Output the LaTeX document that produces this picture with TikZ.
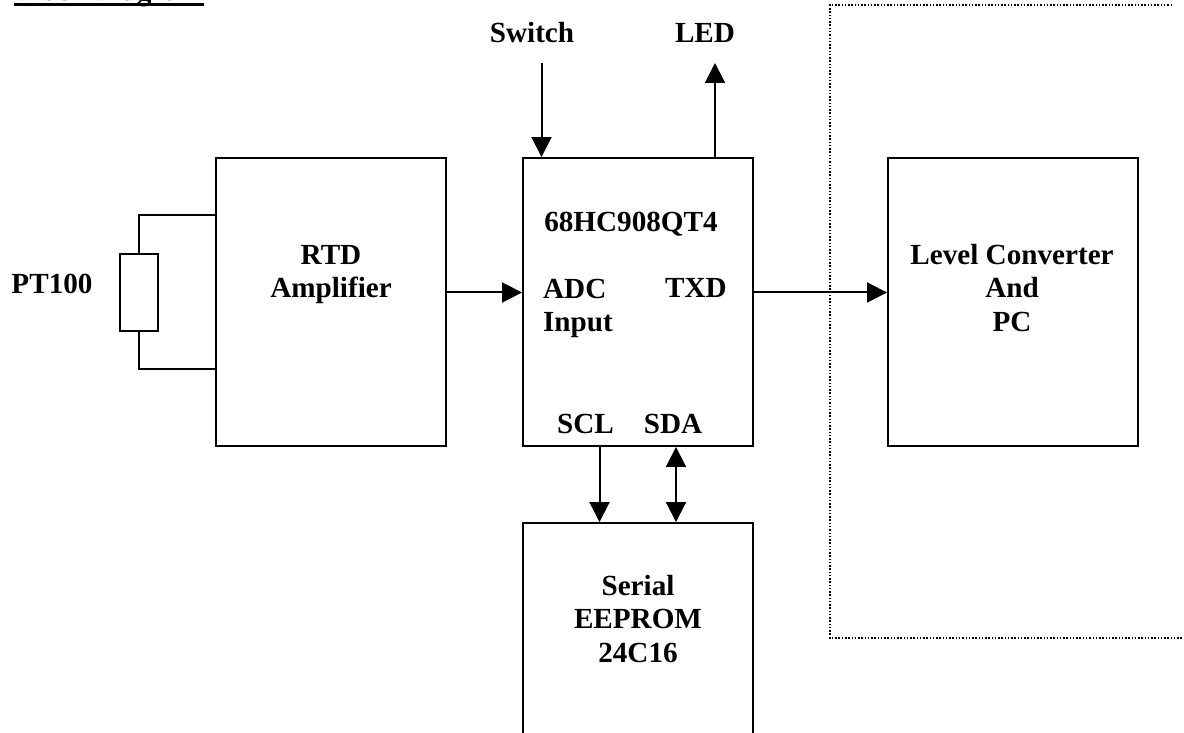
\documentclass[tikz,border=0pt]{standalone}
\usepackage{fontspec}
\setmainfont{Liberation Serif}
\usetikzlibrary{arrows.meta}
\tikzset{
  block/.style={draw=black,line width=0.04cm,inner sep=0pt,minimum width=4.6cm,minimum height=5.76cm,align=center},
  caption/.style={inner sep=0pt,font=\bfseries\fontsize{16.6}{18.9}\selectfont,align=center},
  wire/.style={line width=0.04cm},
  arrowwire/.style={wire,-{Triangle[length=0.4cm,width=0.4cm]}},
  biwire/.style={wire,{Triangle[length=0.4cm,width=0.4cm]}-{Triangle[length=0.4cm,width=0.4cm]}},
}
\begin{document}
\begin{tikzpicture}[x=0.02cm,y=0.02cm]
\useasboundingbox (0,-733) rectangle (1184,0);
\node [block] (rtd) at (331,-302) {};
\node [block] (mcu) at (638,-302) {};
\node [block,minimum width=5cm] (conv) at (1013,-302) {};
\node [block] (eeprom) at (638,-667) {};
\node [block,minimum width=0.76cm,minimum height=1.56cm] (pt) at (139,-292.5) {};
\node [caption,anchor=base] (title) at (109,-0.5) {Block Diagram};
\node [caption] (ptlabel) at (52,-284) {PT100};
\node [caption] (rtdlabel) at (331,-274.5) {RTD\\Amplifier};
\node [caption] (switch) at (532,-33) {Switch};
\node [caption] (led) at (705,-33) {LED};
\node [caption] (part) at (631,-224) {68HC908QT4};
\node [caption,align=left] (adc) at (578,-308.5) {ADC\\Input};
\node [caption] (txd) at (696,-288) {TXD};
\node [caption] (scl) at (585.5,-423.5) {SCL};
\node [caption] (sda) at (673,-424) {SDA};
\node [caption] (conlabel) at (1012,-288) {Level Converter\\And\\PC};
\node [caption] (memlabel) at (638,-619) {Serial\\EEPROM\\24C16};
\coordinate (swin) at (541.5,-63);
\coordinate (ledout) at (715,-63);
\coordinate (dottl) at (830,-5);
\coordinate (dottr) at (1172,-5);
\coordinate (dotbl) at (830,-638);
\coordinate (dotbr) at (1184,-638);
\draw [line width=0.06cm] ([yshift=-0.08cm]title.base west) -- ([yshift=-0.08cm]title.base east);
\draw [wire] (pt.north) |- (rtd.west |- 0,-215.5);
\draw [wire] (pt.south) |- (rtd.west |- 0,-369);
\draw [arrowwire] (rtd.east |- 0,-292.5) -- (mcu.west |- 0,-292.5);
\draw [arrowwire] (mcu.east |- 0,-292.5) -- (conv.west |- 0,-292.5);
\draw [arrowwire] (swin) -- (swin |- mcu.north);
\draw [arrowwire] (ledout |- mcu.north) -- (ledout);
\draw [arrowwire] (599.5,0 |- mcu.south) -- (599.5,0 |- eeprom.north);
\draw [biwire] (676,0 |- mcu.south) -- (676,0 |- eeprom.north);
\draw [black,densely dotted,line width=0.03cm] (dottr) -- (dottl) -- (dotbl) -- (dotbr);
\end{tikzpicture}
\end{document}
